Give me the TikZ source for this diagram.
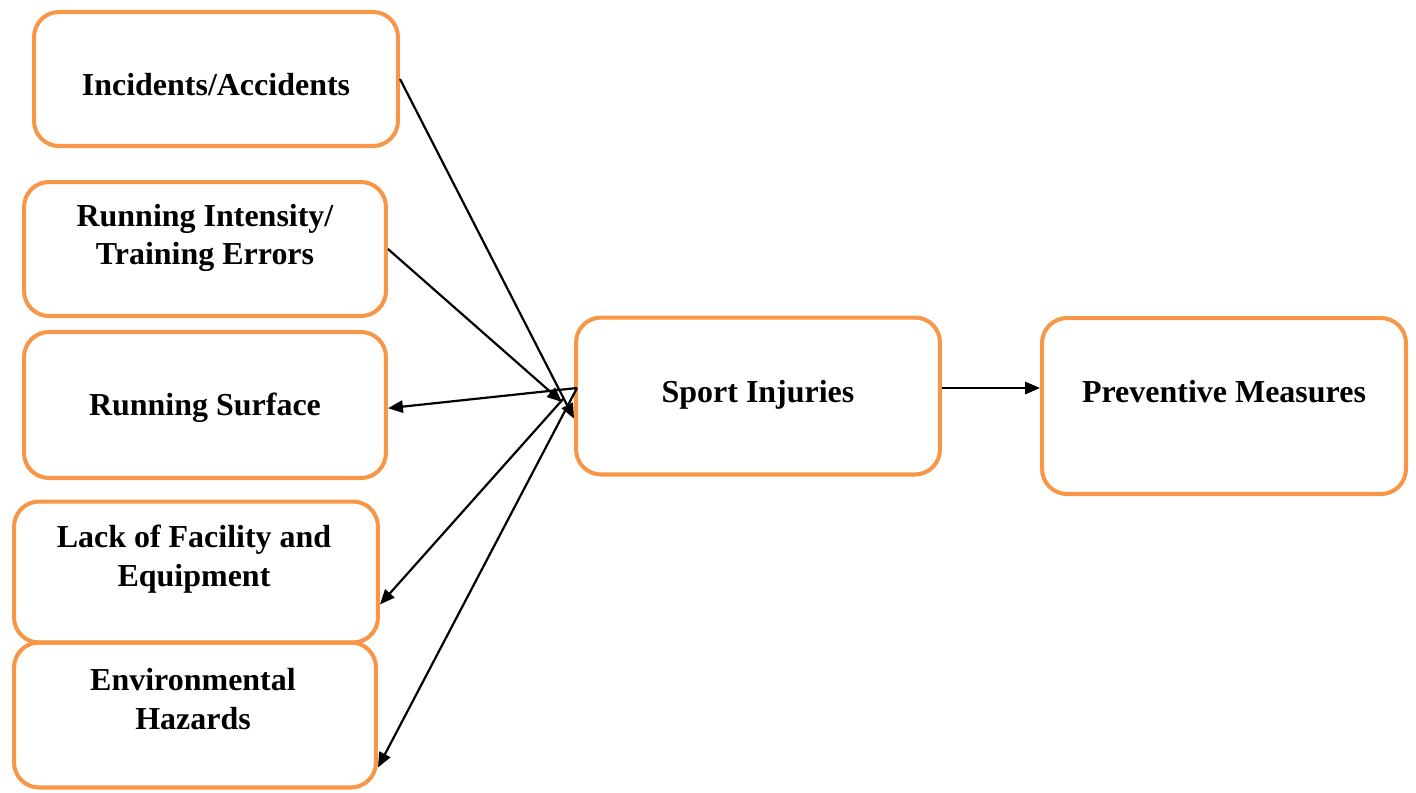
\documentclass[tikz,border=0pt]{standalone}
\usepackage{fontspec}
\setmainfont{Liberation Serif}
\usepackage{xcolor}
\usetikzlibrary{arrows.meta}
\definecolor{boxorange}{RGB}{247,150,70}

\begin{document}
\begin{tikzpicture}[x=0.02cm,y=-0.02cm]%
  \tikzstyle{boxn}=[rectangle,draw=boxorange,line width=2.3pt,rounded corners=0.5cm]
  \tikzstyle{txtn}=[align=center,inner sep=0pt,font=\fontsize{18.2}{22}\selectfont\bfseries]
  \tikzstyle{arrn}=[-{Triangle[length=8.5pt,width=7pt]},line width=1.25pt]
  \useasboundingbox (0,0) rectangle (1416,792);
  % boxes
  \node(b1)[boxn,minimum width=7.28cm,minimum height=2.68cm] at (216,79) {};
  \node(b2)[boxn,minimum width=7.24cm,minimum height=2.68cm] at (205,249) {};
  \node(b3)[boxn,minimum width=7.24cm,minimum height=2.92cm] at (205,405) {};
  \node(b4)[boxn,minimum width=7.28cm,minimum height=2.82cm] at (196,572) {};
  \node(b5)[boxn,minimum width=7.24cm,minimum height=2.90cm] at (195,715) {};
  \node(b6)[boxn,minimum width=7.28cm,minimum height=3.14cm] at (758,396) {};
  \node(b7)[boxn,minimum width=7.28cm,minimum height=3.52cm] at (1224,406) {};
  % texts
  \node(t1)[txtn] at (216,85) {Incidents/Accidents};
  \node(t2)[txtn] at (205,238) {Running Intensity/\\Training Errors};
  \node(t3)[txtn] at (205,408) {Running Surface};
  \node(t4)[txtn] at (194,559) {Lack of Facility and\\Equipment};
  \node(t5)[txtn] at (193,699) {Environmental\\Hazards};
  \node(t6)[txtn] at (758,395) {Sport Injuries};
  \node(t7)[txtn] at (1224,392) {Preventive Measures};
  % arrows
  \coordinate (hub) at (577,388);
  \coordinate (in2) at (562,402);
  \coordinate (out4) at (564,398);
  \draw[arrn] (b1.east) -- (b6.187);
  \draw[arrn] (b2.east) -- (in2);
  \draw[arrn] (hub) -- (b3.-1);
  \draw[arrn] (out4) -- (b4.-10);
  \draw[arrn] (hub) -- (b5.-16);
  \draw[arrn] (b6.east |- hub) -- (b7.west |- hub);
\end{tikzpicture}
\end{document}
